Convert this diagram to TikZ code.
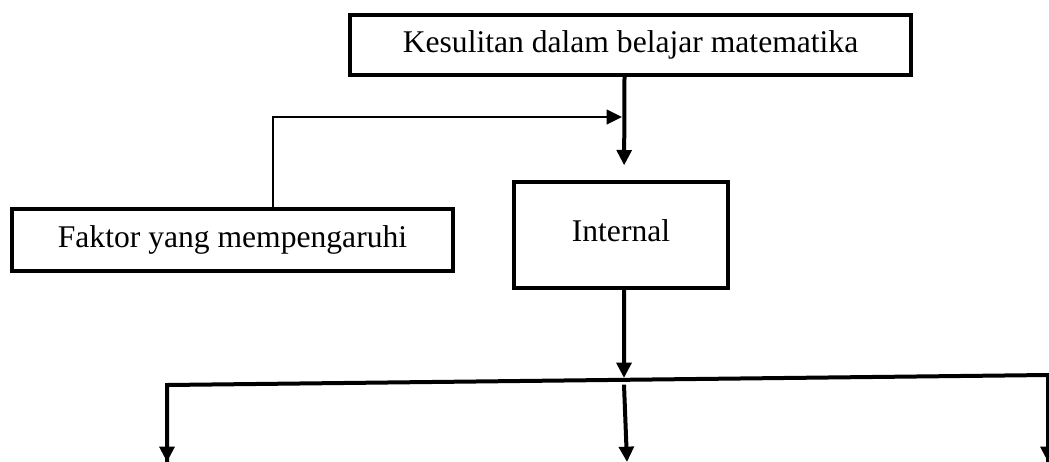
\documentclass[tikz,border=0pt]{standalone}
\usepackage{fontspec}
\setmainfont{Liberation Serif}
\usetikzlibrary{arrows.meta}
\begin{document}
\begin{tikzpicture}[x=0.75pt,y=-0.75pt,
  boxstyle/.style={draw,line width=3pt,fill=white,inner sep=0pt,font=\fontsize{23.7}{28}\selectfont},
  thickarrow/.style={line width=3pt,-{Triangle[length=11.5pt,width=11pt]}},
  thinarrow/.style={line width=1.4pt,-{Triangle[length=11.5pt,width=11pt]}},
  thickline/.style={line width=3pt,line join=miter}]
\useasboundingbox (0,0) rectangle (1049,461);
\clip (0,0) rectangle (1049,461);
\node[boxstyle,minimum width=421pt,minimum height=45pt] (top) at (630.5,45) {Kesulitan dalam belajar matematika};
\node[boxstyle,minimum width=331pt,minimum height=46.5pt] (fak) at (232.5,240) {Faktor yang mempengaruhi};
\node[boxstyle,minimum width=160.5pt,minimum height=79.5pt,text depth=6pt] (int) at (621,235) {Internal};
\coordinate (j1) at (622,117);
\coordinate (busL) at (167,385);
\coordinate (busR) at (1048,375);
\coordinate (busM) at (624,378);
\coordinate (endL) at (167,462);
\coordinate (endM) at (627,462);
\coordinate (endR) at (1048,462);
\draw[thickarrow,shorten >=11pt] ([xshift=-4.5pt]top.south) -- ([xshift=2.3pt]int.north);
\draw[thinarrow] ([xshift=30.5pt]fak.north) |- (j1);
\draw[thickarrow] ([xshift=2.3pt]int.south) -- (busM);
\draw[thickline] (endL) -- (busL) -- (busR) -- (endR);
\draw[thickarrow] (busL) -- (endL);
\draw[thickarrow] ([yshift=-5pt]busM) -- (endM);
\draw[thickarrow] (busR) -- (endR);
\end{tikzpicture}
\end{document}
